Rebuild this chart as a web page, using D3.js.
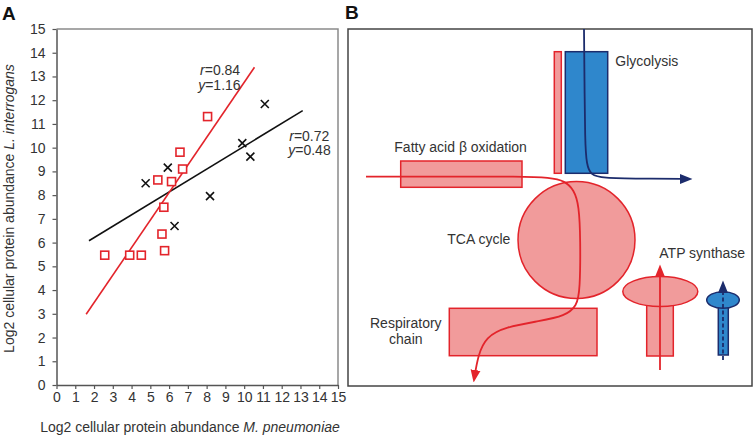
<!DOCTYPE html>
<html><head><meta charset="utf-8">
<script src="https://cdn.jsdelivr.net/npm/d3@7"></script>
<style>
html,body{margin:0;padding:0;background:#fff;}
svg text{font-family:"Liberation Sans",Arial,Helvetica,sans-serif;fill:#333;}
</style></head>
<body>
<svg id="c" width="753" height="436"></svg>
<script>
// ---- Panel A data ----
const xTicks = d3.range(0, 16);
const yTicks = d3.range(0, 16);
const redX = [8.05, 6.58, 6.72, 5.40, 6.13, 5.72, 5.62, 5.76, 2.57, 3.90, 4.52];
const redY = [11.31, 9.81, 9.10, 8.64, 8.57, 7.49, 6.36, 5.66, 5.47, 5.47, 5.47];
const blackX = [4.75, 5.93, 8.18, 6.29, 9.90, 10.33, 11.10];
const blackY = [8.50, 9.16, 7.96, 6.70, 10.19, 9.62, 11.84];
const redFitX = [1.58, 10.55];
const redFitY = [2.98, 13.39];
const blackFitX = [1.73, 13.12];
const blackFitY = [6.08, 11.56];
const redStats = ["0.84", "1.16"];
const blackStats = ["0.72", "0.48"];
const xLabel = ["Log2 cellular protein abundance ", "M. pneumoniae"];
const yLabel = ["Log2 cellular protein abundance ", "L. interrogans"];

// ---- Panel B (schematic, in diagram units) ----
const pathwayLabels = ["Glycolysis", "Fatty acid β oxidation", "TCA cycle", "Respiratory", "chain", "ATP synthase"];

const RED = "#e3242b", PINK = "#f19b9b", BLUE = "#2f87cc", NAVY = "#1c2c6c";

const svg = d3.select("#c");
const x = d3.scaleLinear().domain([0, 15]).range([56.5, 338]);
const y = d3.scaleLinear().domain([0, 15]).range([385, 29]);

// Panel letters
svg.append("text").attr("x", 2).attr("y", 20).attr("font-size", 19).attr("font-weight", "bold").style("fill", "#111").text("A");
svg.append("text").attr("x", 345).attr("y", 19).attr("font-size", 19).attr("font-weight", "bold").style("fill", "#111").text("B");

// Frame (top/right)
const gA = svg.append("g");
gA.append("path")
  .attr("d", `M${x(0)},${y(15)}H${x(15)}V${y(0)}`)
  .attr("fill", "none").attr("stroke", "#8a8a8a").attr("stroke-width", 1.5);

const xAxis = gA.append("g").attr("transform", `translate(0,${y(0)})`)
  .call(d3.axisBottom(x).tickValues(xTicks).tickSize(4).tickSizeOuter(0).tickPadding(3));
const yAxis = gA.append("g").attr("transform", `translate(${x(0)},0)`)
  .call(d3.axisLeft(y).tickValues(yTicks).tickSize(4).tickSizeOuter(0).tickPadding(7));
[xAxis, yAxis].forEach(a => {
  a.select(".domain").attr("stroke", "#555").attr("stroke-width", 1.5);
  a.selectAll(".tick line").attr("stroke", "#555").attr("stroke-width", 1.2);
  a.selectAll(".tick text").attr("font-size", 14).attr("font-family", "Liberation Sans, Arial, sans-serif").style("fill", "#333");
});

// Fit lines
const line = d3.line().x(d => x(d[0])).y(d => y(d[1]));
gA.append("path").datum(d3.zip(blackFitX, blackFitY)).attr("d", line)
  .attr("stroke", "#111").attr("stroke-width", 1.6).attr("fill", "none");
gA.append("path").datum(d3.zip(redFitX, redFitY)).attr("d", line)
  .attr("stroke", RED).attr("stroke-width", 1.6).attr("fill", "none");

// Points
const sq = 8;
gA.selectAll("rect.red").data(d3.zip(redX, redY)).join("rect")
  .attr("x", d => x(d[0]) - sq / 2).attr("y", d => y(d[1]) - sq / 2)
  .attr("width", sq).attr("height", sq)
  .attr("fill", "#fff").attr("stroke", RED).attr("stroke-width", 1.6);
const cr = 4;
gA.selectAll("path.cross").data(d3.zip(blackX, blackY)).join("path")
  .attr("d", d => { const cx = x(d[0]), cy = y(d[1]); return `M${cx-cr},${cy-cr}L${cx+cr},${cy+cr}M${cx-cr},${cy+cr}L${cx+cr},${cy-cr}`; })
  .attr("stroke", "#111").attr("stroke-width", 1.6).attr("fill", "none");

// Annotations
function stat(xx, yy, v, letter) {
  const t = gA.append("text").attr("x", xx).attr("y", yy).attr("font-size", 14);
  t.append("tspan").attr("font-style", "italic").text(letter);
  t.append("tspan").text("=" + v);
}
stat(x(7.65), y(13.08), redStats[0], "r");
stat(x(7.55), y(12.43), redStats[1], "y");
stat(x(12.4), y(10.3), blackStats[0], "r");
stat(x(12.35), y(9.67), blackStats[1], "y");

// Axis labels
const xl = svg.append("text").attr("x", 190).attr("y", 432).attr("text-anchor", "middle").attr("font-size", 14);
xl.append("tspan").text(xLabel[0]);
xl.append("tspan").attr("font-style", "italic").text(xLabel[1]);
const yl = svg.append("text").attr("transform", "translate(14,208.5) rotate(-90)").attr("text-anchor", "middle").attr("font-size", 14);
yl.append("tspan").text(yLabel[0]);
yl.append("tspan").attr("font-style", "italic").text(yLabel[1]);

// ---- Panel B ----
const bx = d3.scaleLinear().domain([0, 404]).range([348, 752]);
const by = d3.scaleLinear().domain([0, 357]).range([29, 386]);
const gB = svg.append("g");
gB.append("rect").attr("x", bx(0)).attr("y", by(0)).attr("width", bx(404) - bx(0)).attr("height", by(357) - by(0))
  .attr("fill", "#fff").attr("stroke", "#444").attr("stroke-width", 1.5);

svg.append("defs").html(`
<marker id="ar" viewBox="0 0 10 10" refX="8" refY="5" markerWidth="7" markerHeight="7" orient="auto-start-reverse"><path d="M0,1L10,5L0,9z" fill="${RED}"/></marker>
<marker id="an" viewBox="0 0 10 10" refX="8" refY="5" markerWidth="7" markerHeight="7" orient="auto-start-reverse"><path d="M0,1L10,5L0,9z" fill="${NAVY}"/></marker>`);

function rectB(x0, y0, x1, y1, fill, stroke) {
  gB.append("rect").attr("x", bx(x0)).attr("y", by(y0)).attr("width", bx(x1) - bx(x0)).attr("height", by(y1) - by(y0))
    .attr("fill", fill).attr("stroke", stroke).attr("stroke-width", 1.5);
}
// Glycolysis bars
rectB(206.3, 22.7, 213.3, 144.3, PINK, RED);
rectB(217.3, 22.7, 259.7, 144.3, BLUE, NAVY);
// Fatty acid
rectB(52.7, 132, 174, 158.3, PINK, RED);
// TCA
gB.append("circle").attr("cx", bx(228.5)).attr("cy", by(211)).attr("r", bx(58.5) - bx(0))
  .attr("fill", PINK).attr("stroke", RED).attr("stroke-width", 1.5);
// Respiratory chain
rectB(101.3, 279.3, 249, 326.7, PINK, RED);
// ATP synthase (red)
rectB(298.7, 276, 325.3, 327, PINK, RED);
gB.append("ellipse").attr("cx", bx(312.3)).attr("cy", by(262.5)).attr("rx", bx(37.5) - bx(0)).attr("ry", by(15) - by(0))
  .attr("fill", PINK).attr("stroke", RED).attr("stroke-width", 1.5);
// ATP synthase (blue)
rectB(370.3, 277, 380.3, 326, BLUE, NAVY);
gB.append("ellipse").attr("cx", bx(375)).attr("cy", by(271)).attr("rx", bx(16.3) - bx(0)).attr("ry", by(8.3) - by(0))
  .attr("fill", BLUE).attr("stroke", NAVY).attr("stroke-width", 1.5);

const curve = d3.line().x(d => bx(d[0])).y(d => by(d[1])).curve(d3.curveBasis);
// Navy glycolysis flux
const navyFlux = [[236, 0], [236.5, 51], [237, 111], [238.5, 136], [243, 146], [254, 149], [292, 149.7], [342, 150]];
gB.append("path").attr("d", curve(navyFlux)).attr("fill", "none").attr("stroke", NAVY).attr("stroke-width", 1.8).attr("marker-end", "url(#an)");
// Red fatty acid / TCA / respiratory flux
const redFlux = [[18, 147.7], [100, 147.5], [172, 147.5], [202, 148.5], [217, 152], [226, 161], [231, 176], [232.5, 211], [232, 261], [229, 277], [217, 287], [192, 292], [157, 298], [138, 308], [130, 326], [126, 351]];
gB.append("path").attr("d", curve(redFlux)).attr("fill", "none").attr("stroke", RED).attr("stroke-width", 1.8).attr("marker-end", "url(#ar)");
// ATP arrows
gB.append("path").attr("d", `M${bx(312)},${by(341)}V${by(238)}`).attr("stroke", RED).attr("stroke-width", 1.8).attr("marker-end", "url(#ar)");
gB.append("path").attr("d", `M${bx(375)},${by(331)}V${by(254)}`).attr("stroke", NAVY).attr("stroke-width", 1.8)
  .attr("stroke-dasharray", "4,2.5").attr("marker-end", "url(#an)");

// Labels
function lab(tx, ty, t, anchor) {
  gB.append("text").attr("x", bx(tx)).attr("y", by(ty)).attr("font-size", 14).attr("text-anchor", anchor || "start").text(t);
}
lab(267.3, 37, pathwayLabels[0]);
lab(46.3, 123, pathwayLabels[1]);
lab(99.3, 215, pathwayLabels[2]);
lab(57.8, 299.3, pathwayLabels[3], "middle");
lab(57.8, 315.3, pathwayLabels[4], "middle");
lab(311.3, 229.3, pathwayLabels[5]);
</script>
</body></html>
